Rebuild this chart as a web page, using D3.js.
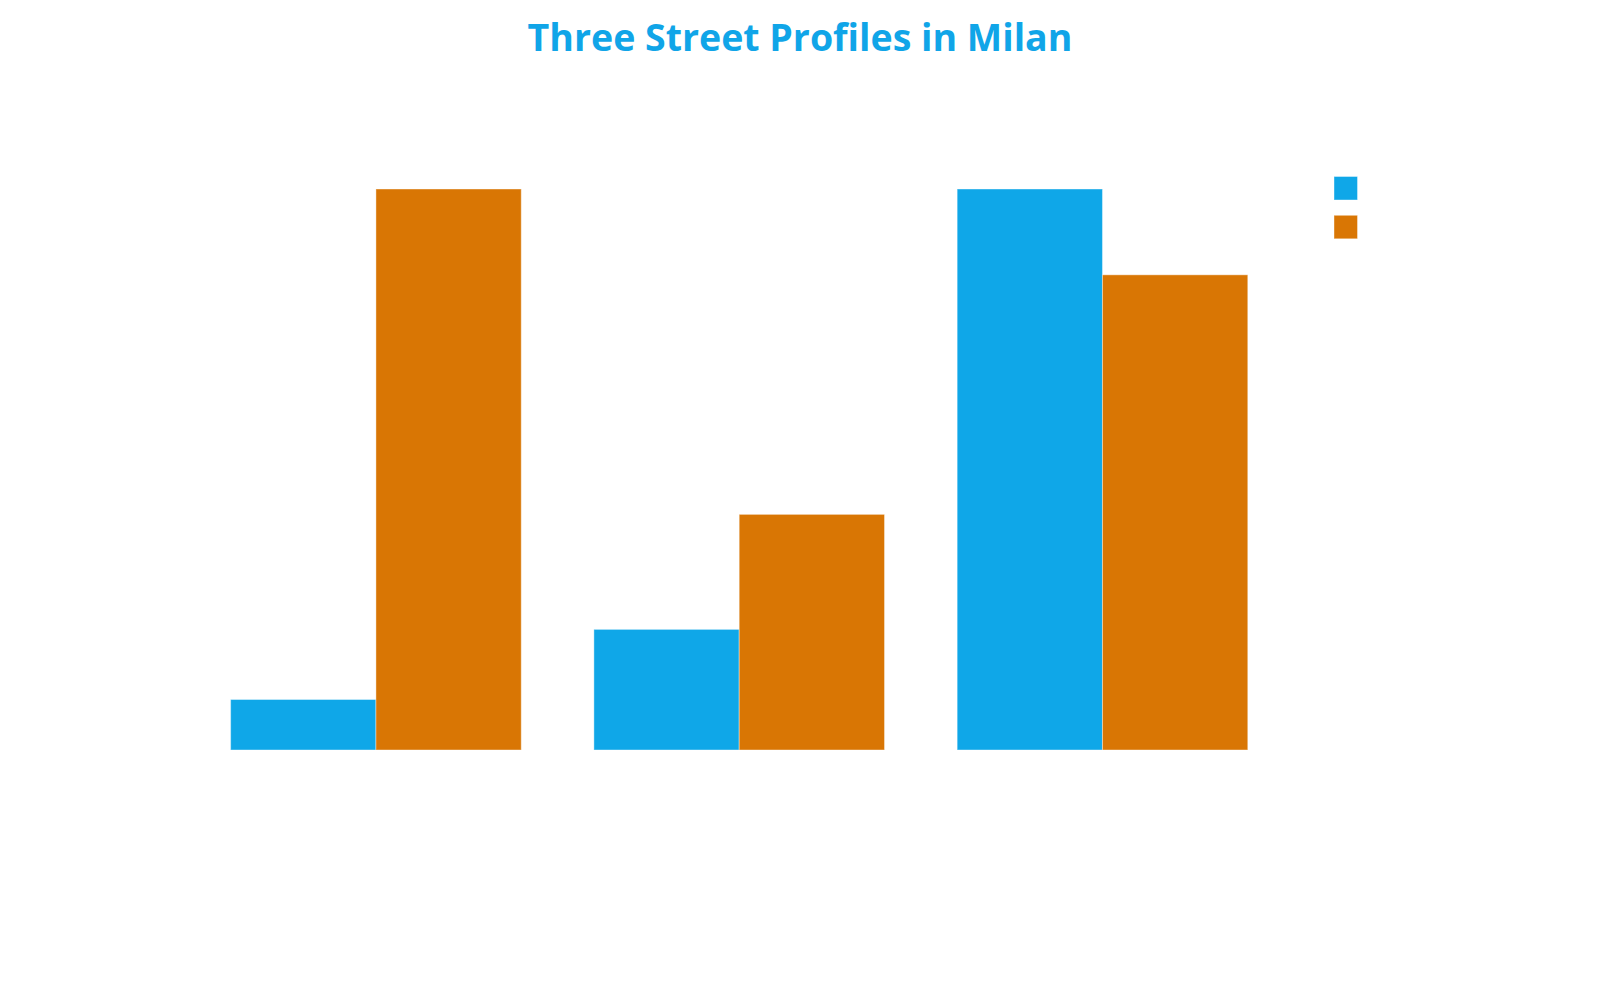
<!DOCTYPE html>
<html>
<head>
<meta charset="utf-8">
<script src="https://cdn.jsdelivr.net/npm/d3@7"></script>
<style>
  body { margin: 0; background: #fff; }
</style>
</head>
<body>
<script>
// data (scale 0-100)
var streets = ["Street A", "Street B", "Street C"];
var seriesNames = ["Series 1", "Series 2"];
var series1 = [9, 21.5, 100];
var series2 = [100, 42, 84.7];
var colors = ["#0fa7e8", "#d97604"];

var W = 1600, H = 1000;

var svg = d3.select("body").append("svg")
    .attr("width", W)
    .attr("height", H);

svg.append("text")
    .attr("x", 800)
    .attr("y", 51)
    .attr("text-anchor", "middle")
    .attr("font-family", "Open Sans, Noto Sans, sans-serif")
    .attr("font-weight", "bold")
    .attr("font-size", 37.5)
    .attr("fill", "#10a5e8")
    .text("Three Street Profiles in Milan");

var x0 = d3.scaleBand()
    .domain(streets)
    .range([194.3, 1284.1])
    .paddingInner(0.2)
    .paddingOuter(0.1);

var x1 = d3.scaleBand()
    .domain(seriesNames)
    .range([0, x0.bandwidth()]);

var y = d3.scaleLinear()
    .domain([0, 100])
    .range([750, 189]);

var rows = streets.map(function(s, i){
    return {street: s, values: [series1[i], series2[i]]};
});

var groups = svg.selectAll("g.grp")
    .data(rows)
    .enter()
    .append("g")
    .attr("class", "grp")
    .attr("transform", function(d){ return "translate(" + x0(d.street) + ",0)"; });

groups.selectAll("rect")
    .data(function(d){
        return d.values.map(function(v, j){ return {name: seriesNames[j], value: v, j: j}; });
    })
    .enter()
    .append("rect")
    .attr("x", function(d){ return x1(d.name); })
    .attr("y", function(d){ return y(d.value); })
    .attr("width", x1.bandwidth())
    .attr("height", function(d){ return y(0) - y(d.value); })
    .attr("fill", function(d){ return colors[d.j]; })
    .attr("stroke", "#fff")
    .attr("stroke-opacity", 0.4)
    .attr("stroke-width", 1);

// legend swatches
var legend = svg.selectAll("g.leg")
    .data(seriesNames)
    .enter()
    .append("g")
    .attr("class", "leg")
    .attr("transform", function(d, i){ return "translate(1334," + (176.5 + i * 38.8) + ")"; });

legend.append("rect")
    .attr("width", 23.5)
    .attr("height", 23.5)
    .attr("fill", function(d, i){ return colors[i]; })
    .attr("stroke", "#fff")
    .attr("stroke-opacity", 0.4);
</script>
</body>
</html>
